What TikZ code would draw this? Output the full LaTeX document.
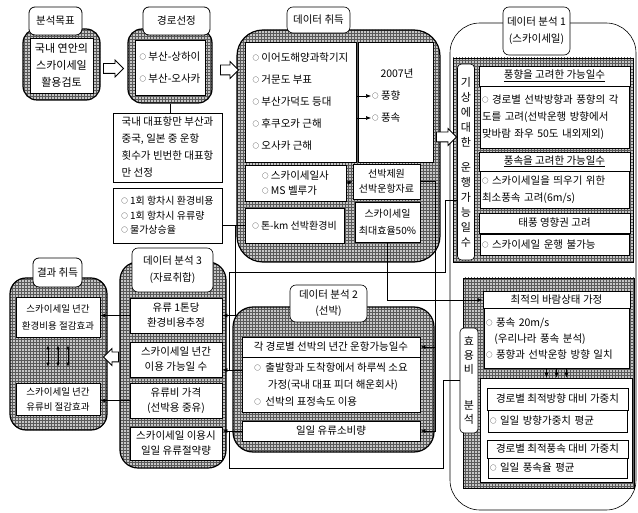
\documentclass[tikz,border=0pt]{standalone}
\usepackage{fontspec}
\setmainfont{Noto Sans CJK KR}
\usetikzlibrary{
  arrows.meta,
  positioning,
  shapes.arrows,
  patterns,
  calc
}
\tikzset{
  tagbox/.style={draw, thick, rounded corners=6pt, fill=white,
    align=center, inner sep=2pt, font=\fontsize{10.5}{14}\selectfont},
  hatchbox/.style={draw, very thick, rounded corners=14pt,
    preaction={fill=gray!45}, pattern=grid, pattern color=black!65},
  hatchrect/.style={hatchbox, thick, rounded corners=0pt},
  inbox/.style={draw, thick, fill=white, align=center, inner sep=2pt,
    font=\fontsize{10.5}{14}\selectfont},
  lbox/.style={inbox, align=left, inner xsep=4pt},
  rbox/.style={inbox, font=\fontsize{10.5}{13}\selectfont},
  vbox/.style={draw, semithick, rounded corners=4pt, fill=white,
    align=center, inner sep=1pt, font=\fontsize{11}{14}\selectfont},
  txt/.style={inner sep=1pt, font=\fontsize{10.5}{14}\selectfont},
  link/.style={-{Latex[length=5pt,width=4pt]}, semithick},
  wire/.style={semithick},
  fatarr/.style={single arrow, draw, thick, fill=white,
    minimum height=20pt, inner sep=4.5pt,
    single arrow head extend=3.5pt, single arrow head indent=0pt,
    path picture={\fill (path picture bounding box.south west) rectangle
      ([xshift=6pt]path picture bounding box.north west);}},
  fatarrl/.style={fatarr, shape border rotate=180,
    path picture={\fill (path picture bounding box.south east) rectangle
      ([xshift=-6pt]path picture bounding box.north east);}},
}
\newcommand{\bulletmark}{\raisebox{1pt}{\fontsize{6.5}{6.5}\selectfont ○}\ }

\begin{document}
\begin{tikzpicture}[x=1pt, y=-1pt]
  \useasboundingbox (0,0) rectangle (638,513);

  % Data analysis 1 outline (skysail)
  \node[draw, semithick, rounded corners=30pt,
        minimum width=186pt, minimum height=487pt] (an1fr) at (543,266.5) {};

  % Goal
  \node[hatchbox, minimum width=77pt, minimum height=71pt] (goalfr) at (61.5,64.5) {};
  \node[inbox, minimum width=63pt, minimum height=55pt,
        font=\fontsize{11}{17}\selectfont] (goal) at (61.5,65.5)
    {국내 연안의\\스카이세일\\활용검토};
  \node[tagbox, minimum width=53pt, minimum height=28pt] (goaltag) at (55.5,21) {분석목표};

  % Route selection
  \node[hatchbox, minimum width=84pt, minimum height=74pt] (routefr) at (170,66) {};
  \node[inbox, minimum width=70pt, minimum height=55pt,
        font=\fontsize{10.5}{22}\selectfont] (route) at (170,67.5)
    {\bulletmark 부산-상하이\\\bulletmark 부산-오사카};
  \node[tagbox, minimum width=67pt, minimum height=28pt] (routetag) at (176.5,21) {경로선정};

  \node[lbox, minimum width=109pt, minimum height=69pt,
        font=\fontsize{10.5}{17}\selectfont] (routenote) at (167.5,147.5)
    {국내 대표항만 부산과\\중국, 일본 중 운항\\횟수가 빈번한 대표항\\만 선정};
  \node[lbox, minimum width=109pt, minimum height=55pt,
        font=\fontsize{10}{14.5}\selectfont] (costnote) at (167.5,215.5)
    {\bulletmark 1회 항차시 환경비용\\\bulletmark 1회 항차시 유류량\\\bulletmark 물가상승율};

  % Data acquisition
  \node[hatchbox, rounded corners=26pt, minimum width=203pt, minimum height=232pt]
    (datafr) at (338.5,146) {};
  \node[tagbox, semithick, minimum width=63pt, minimum height=26pt] (datatag) at (318.5,20) {데이터 취득};
  \node[lbox, minimum width=111pt, minimum height=120pt,
        font=\fontsize{10.5}{22}\selectfont] (stations) at (300.5,102)
    {\bulletmark 이어도해양과학기지\\\bulletmark 거문도 부표\\\bulletmark 부산가덕도 등대\\\bulletmark 후쿠오카 근해\\\bulletmark 오사카 근해};
  \node[inbox, minimum width=75pt, minimum height=120pt] (yearbox) at (395.5,102) {};
  \node[txt] (yr) at (397,73) {2007년};
  \node[txt, anchor=west] (wdir) at (371,96) {\bulletmark 풍향};
  \node[txt, anchor=west] (wspd) at (371,118) {\bulletmark 풍속};
  \node[lbox, minimum width=101pt, minimum height=36pt,
        font=\fontsize{10.5}{15}\selectfont] (shipsrc) at (295.5,183)
    {\bulletmark 스카이세일사\\\bulletmark MS 벨루가};
  \node[inbox, minimum width=67pt, minimum height=35pt,
        font=\fontsize{10}{15}\selectfont] (shipspec) at (386.5,181.5)
    {선박제원\\선박운항자료};
  \node[inbox, minimum width=65pt, minimum height=40pt,
        font=\fontsize{10}{17}\selectfont] (saileff) at (387.5,222)
    {스카이세일\\최대효율50\%};
  \node[lbox, minimum width=99pt, minimum height=35pt,
        font=\fontsize{10}{14}\selectfont] (tonkm) at (294.5,225.5)
    {\bulletmark 톤-km 선박환경비};

  % Data analysis 1 (skysail)
  \node[tagbox, semithick, minimum width=67pt, minimum height=48pt,
        font=\fontsize{10.5}{17}\selectfont] (an1tag) at (536.5,31)
    {데이터 분석 1\\(스카이세일)};
  \node[hatchrect, minimum width=180pt, minimum height=204pt] (wxfr) at (543,160) {};
  \node[vbox, minimum width=17pt, minimum height=196pt,
        font=\fontsize{11}{15}\selectfont] (wxdays) at (466,162)
    {기\\상\\에\\대\\한\\[10pt]운\\행\\가\\능\\일\\수};
  \node[rbox, minimum width=151pt, minimum height=20pt] (hdir) at (554.5,76)
    {\underline{풍향을 고려한 가능일수}};
  \node[rbox, align=left, text width=145pt, minimum height=62pt,
        font=\fontsize{10.5}{17}\selectfont] (bdir) at (554.5,117)
    {\bulletmark 경로별 선박방향과 풍향의 각\\도를 고려(선박운행 방향에서\\맞바람 좌우 50도 내외제외)};
  \node[rbox, minimum width=151pt, minimum height=19pt] (hspd) at (554.5,161.5)
    {\underline{풍속을 고려한 가능일수}};
  \node[rbox, align=left, text width=145pt, minimum height=37pt,
        font=\fontsize{10.5}{17}\selectfont] (bspd) at (554.5,189.5)
    {\bulletmark 스카이세일을 띄우기 위한\\최소풍속 고려(6m/s)};
  \node[rbox, minimum width=151pt, minimum height=20pt] (htyp) at (554.5,223) {태풍 영향권 고려};
  \node[rbox, align=left, text width=145pt, minimum height=21pt] (btyp) at (554.5,244.5)
    {\bulletmark 스카이세일 운행 불가능};

  \node[hatchrect, minimum width=171pt, minimum height=210pt] (optfr) at (548.5,383) {};
  \node[vbox, minimum width=18pt, minimum height=105pt] (util) at (469,380.5)
    {효\\용\\비\\[22pt]분\\석};
  \node[rbox, minimum width=147pt, minimum height=17pt] (hopt) at (556.5,300)
    {최적의 바람상태 가정};
  \node[rbox, align=left, text width=141pt, minimum height=60pt,
        font=\fontsize{10.5}{16}\selectfont] (bopt) at (556.5,338.5)
    {\bulletmark 풍속 20m/s\\\hspace*{0.8em}(우리나라 풍속 분석)\\\bulletmark 풍향과 선박운항 방향 일치};
  \node[inbox, minimum width=152pt, minimum height=104pt] (wgtfr) at (556,430) {};
  \node[rbox, minimum width=141pt, minimum height=22pt] (hwdir) at (557.5,399)
    {경로별 최적방향 대비 가중치};
  \node[rbox, align=left, text width=135pt, minimum height=22pt] (bwdir) at (557.5,421)
    {\bulletmark 일일 방향가중치 평균};
  \node[rbox, minimum width=141pt, minimum height=18pt] (hwspd) at (557.5,449)
    {경로별 최적풍속 대비 가중치};
  \node[rbox, align=left, text width=135pt, minimum height=20pt] (bwspd) at (557.5,468)
    {\bulletmark 일일 풍속율 평균};

  % Data analysis 2 (ship)
  \node[hatchbox, rounded corners=20pt, minimum width=201pt, minimum height=145pt]
    (shipfr) at (333.5,379.5) {};
  \node[tagbox, semithick, minimum width=77pt, minimum height=37pt,
        font=\fontsize{10.5}{16}\selectfont] (an2tag) at (328.5,303.5)
    {데이터 분석 2\\(선박)};
  \node[inbox, minimum width=178pt, minimum height=20pt] (hdays) at (331,347)
    {각 경로별 선박의 년간 운항가능일수};
  \node[lbox, minimum width=178pt, minimum height=55pt,
        font=\fontsize{10.5}{17}\selectfont] (bdays) at (331,384.5)
    {\bulletmark\ 출발항과 도착항에서 하루씩 소요\\\hspace*{1.3em}가정(국내 대표 피더 해운회사)\\\bulletmark\ 선박의 표정속도 이용};
  \node[inbox, minimum width=178pt, minimum height=20pt] (fueluse) at (331,431)
    {일일 유류소비량};

  % Data analysis 3 (collection)
  \node[hatchbox, rounded corners=18pt, minimum width=106pt, minimum height=206pt]
    (sumfr) at (173,365) {};
  \node[tagbox, semithick, minimum width=81pt, minimum height=44pt,
        font=\fontsize{10.5}{17}\selectfont] (an3tag) at (172.5,270)
    {데이터 분석 3\\(자료취합)};
  \node[inbox, minimum width=92pt, minimum height=35pt,
        font=\fontsize{10.5}{15}\selectfont] (co2ton) at (176,315.5)
    {유류 1톤당\\환경비용추정};
  \node[inbox, minimum width=92pt, minimum height=35pt,
        font=\fontsize{10.5}{15}\selectfont] (sailday) at (176,359.5)
    {스카이세일 년간\\이용 가능일 수};
  \node[inbox, minimum width=92pt, minimum height=35pt,
        font=\fontsize{10.5}{15}\selectfont] (oilprice) at (176,400.5)
    {유류비 가격\\(선박용 중유)};
  \node[inbox, minimum width=92pt, minimum height=33pt,
        font=\fontsize{10.5}{15}\selectfont] (fuelsave) at (176,443.5)
    {스카이세일 이용시\\일일 유류절약량};

  % Results
  \node[hatchbox, rounded corners=16pt, minimum width=97pt, minimum height=152pt]
    (resfr) at (58.5,354) {};
  \node[tagbox, minimum width=49pt, minimum height=29pt] (restag) at (57.5,272.5) {결과 취득};
  \node[inbox, minimum width=84pt, minimum height=40pt,
        font=\fontsize{9.5}{17}\selectfont] (saveenv) at (58,317)
    {스카이세일 년간\\환경비용 절감효과};
  \node[inbox, minimum width=84pt, minimum height=32pt,
        font=\fontsize{9.5}{15}\selectfont] (saveoil) at (58,399)
    {스카이세일 년간\\유류비 절감효과};
  \foreach \dx [count=\i] in {-10,0,10} {
    \path ([xshift=\dx pt]saveenv.south) coordinate (r\i);
    \draw[{Latex[length=4pt,width=3.5pt]}-{Latex[length=4pt,width=3.5pt]}, semithick,
          shorten <=8pt, shorten >=16pt] (r\i) -- (r\i |- saveoil.north);
  }

  % Connectors
  \draw[wire] (routefr.south) -- (routefr.south |- routenote.north);
  \draw[link] (stations.east |- wdir.west) -- (wdir.west);
  \draw[link] (stations.east |- wspd.west) -- (wspd.west);
  \draw[link] (shipsrc.east) -- (shipspec.west);

  \coordinate (j1) at (tonkm.west -| 235,0);
  \draw[wire] (costnote.east |- tonkm.west) -- (tonkm.west);
  \draw[link] (j1) |- (co2ton.east);

  \coordinate (d1) at ([yshift=14.5pt]bdays.west);
  \draw[link] (d1) -- (d1 -| sailday.east);

  \coordinate (w0) at ([yshift=-38pt]wxdays.west);
  \coordinate (w1) at (445,272);
  \coordinate (w2) at (229,272);
  \draw[wire] (w0) -| (w1) -- (w2) -- (w2 |- d1);

  \coordinate (u1) at (443,468);
  \coordinate (u2) at (fueluse.west -| 229,0);
  \draw[wire] (util.west) -| (u1) -| (u2);
  \draw[link] (fueluse.west) -- (fueluse.west -| fuelsave.east);

  \coordinate (s1) at (shipspec.east -| 435,0);
  \draw[link] (shipspec.east) -- (s1) |- (hdays.east);
  \draw[link] (s1) |- (fueluse.east);

  \draw[link] (saileff.south) |- (hopt.west);

  \foreach \dx [count=\i] in {-10,0,10} {
    \path ([xshift=\dx pt]bopt.south) coordinate (t\i);
    \draw[link] (t\i) -- (t\i |- wgtfr.north);
  }

  \draw[link] (co2ton.west) -- (co2ton.west -| saveenv.east);
  \draw[link] (oilprice.west) -- (oilprice.west -| saveoil.east);

  % Block arrows between stages
  \node[fatarr] (a1) at (111,68.5) {};
  \node[fatarr, minimum height=18pt] (a2) at (227,70) {};
  \node[fatarr] (a3) at (444,137) {};
  \node[fatarrl, minimum height=15pt] (a4) at (113.5,357) {};
\end{tikzpicture}
\end{document}
